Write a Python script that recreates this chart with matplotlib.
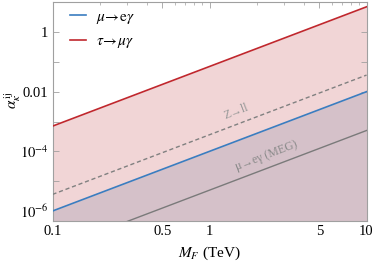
import numpy as np
import matplotlib
matplotlib.use("Agg")
import matplotlib.pyplot as plt
from matplotlib.ticker import FixedLocator, NullFormatter, FixedFormatter

plt.rcParams['font.family'] = ['Liberation Serif', 'DejaVu Serif']
plt.rcParams['mathtext.fontset'] = 'stix'

# data
M = [0.1, 10.0]
mu_e_gamma = [1e-6, 1e-2]
tau_mu_gamma = [7e-4, 7.0]
z_ll = [3.6e-6, 3.6e-2]
meg = [5e-8, 5e-4]

x_ticks = [0.1, 0.5, 1, 5, 10]
x_ticklabels = ["0.1", "0.5", "1", "5", "10"]
y_ticks = [1e-6, 1e-4, 1e-2, 1]
y_ticklabels = [r"$10^{-6}$", r"$10^{-4}$", "0.01", "1"]

fig = plt.figure(figsize=(3.74, 2.63), dpi=100)
ax = fig.add_axes([0.1404, 0.1597, 0.98 - 0.1404, 0.9905 - 0.1597])
ax.set_xscale('log')
ax.set_yscale('log')
ymin, ymax = 10**-6.335, 10**0.99
ax.set_xlim(0.1, 10)
ax.set_ylim(ymin, ymax)

red = '#c0272d'
blue = '#3a7dc0'
ax.fill_between(M, tau_mu_gamma, ymin * 0.1, color='#f1d5d6', lw=0, zorder=1)
ax.fill_between(M, mu_e_gamma, ymin * 0.1, color='#d5c1c9', lw=0, zorder=2)
ax.plot(M, mu_e_gamma, color=blue, lw=1.2, zorder=4, label=r'$\mu\!\rightarrow\!\mathrm{e}\gamma$')
ax.plot(M, tau_mu_gamma, color=red, lw=1.2, zorder=4, label=r'$\tau\!\rightarrow\!\mu\gamma$')
ax.plot(M, z_ll, color='#808080', lw=1.0, ls=(0, (3, 2)), zorder=3)
ax.plot(M, meg, color='#7a7a7a', lw=1.0, zorder=3)

ang = 20.9
ax.text(0.584, 0.50, "Z→ll", transform=ax.transAxes, rotation=ang, color='#9a9a9a',
        fontsize=8.5, ha='center', va='center', rotation_mode='anchor')
ax.text(0.68, 0.30, "μ→eγ (MEG)", transform=ax.transAxes, rotation=ang, color='#8a8a8a',
        fontsize=8.5, ha='center', va='center', rotation_mode='anchor')

ax.xaxis.set_major_locator(FixedLocator(x_ticks))
ax.xaxis.set_major_formatter(FixedFormatter(x_ticklabels))
minors_x = [v * d for d in (0.1, 1) for v in range(1, 10) if v * d not in x_ticks]
ax.xaxis.set_minor_locator(FixedLocator(minors_x))
ax.xaxis.set_minor_formatter(NullFormatter())
ax.yaxis.set_major_locator(FixedLocator(y_ticks))
ax.yaxis.set_major_formatter(FixedFormatter(y_ticklabels))
ax.yaxis.set_minor_locator(FixedLocator([1e-5, 1e-3, 1e-1, 10]))
ax.yaxis.set_minor_formatter(NullFormatter())

ax.tick_params(which='both', direction='in', top=True, right=True, color='#a0a0a0', labelsize=10.5, pad=3)
ax.tick_params(which='major', length=4, width=0.6)
ax.tick_params(which='minor', length=2.2, width=0.5)
ax.tick_params(axis='y', which='minor', length=4, width=0.6)
for s in ax.spines.values():
    s.set_color('#a0a0a0')
    s.set_linewidth(0.8)

ax.set_xlabel(r'$M_F$ (TeV)', fontsize=11, labelpad=5)
ax.set_ylabel(r'$\alpha_\kappa^{\,\mathrm{ij}}$', fontsize=11, va='center', ha='center')
ax.yaxis.set_label_coords(-0.128, 0.554)

leg = ax.legend(loc='upper left', frameon=False, fontsize=11, handlelength=1.1,
                handletextpad=0.6, labelspacing=0.55, borderaxespad=0.1,
                bbox_to_anchor=(0.03, 1.0))

fig.savefig('out.png', dpi=100)
